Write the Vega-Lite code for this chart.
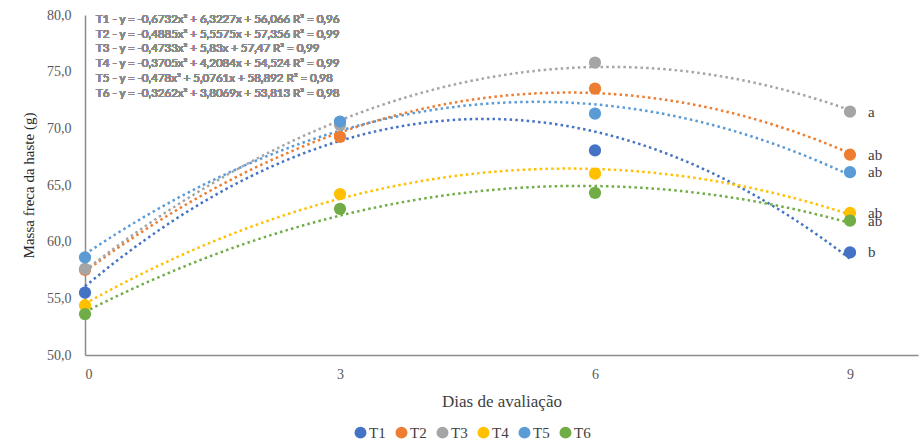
{
  "$schema": "https://vega.github.io/schema/vega-lite/v6.json",
  "width": 833,
  "height": 340,
  "autosize": {"type": "none"},
  "padding": {"left": 85, "top": 15, "right": 2, "bottom": 89},
  "config": {
    "view": {"stroke": null},
    "locale": {"number": {"decimal": ",", "thousands": ".", "grouping": [3], "currency": ["", ""]}},
    "font": "Liberation Serif, Times New Roman, serif"
  },
  "data": {
    "values": [
      {"t": "T1", "dia": 0, "massa": 55.5, "sig": ""},
      {"t": "T1", "dia": 3, "massa": 70.55, "sig": ""},
      {"t": "T1", "dia": 6, "massa": 68.05, "sig": ""},
      {"t": "T1", "dia": 9, "massa": 59.05, "sig": "b"},
      {"t": "T2", "dia": 0, "massa": 57.5, "sig": ""},
      {"t": "T2", "dia": 3, "massa": 69.24, "sig": ""},
      {"t": "T2", "dia": 6, "massa": 73.5, "sig": ""},
      {"t": "T2", "dia": 9, "massa": 67.67, "sig": "ab"},
      {"t": "T3", "dia": 0, "massa": 57.6, "sig": ""},
      {"t": "T3", "dia": 3, "massa": 70.31, "sig": ""},
      {"t": "T3", "dia": 6, "massa": 75.8, "sig": ""},
      {"t": "T3", "dia": 9, "massa": 71.47, "sig": "a"},
      {"t": "T4", "dia": 0, "massa": 54.39, "sig": ""},
      {"t": "T4", "dia": 3, "massa": 64.2, "sig": ""},
      {"t": "T4", "dia": 6, "massa": 66.0, "sig": ""},
      {"t": "T4", "dia": 9, "massa": 62.53, "sig": "ab"},
      {"t": "T5", "dia": 0, "massa": 58.62, "sig": ""},
      {"t": "T5", "dia": 3, "massa": 70.6, "sig": ""},
      {"t": "T5", "dia": 6, "massa": 71.3, "sig": ""},
      {"t": "T5", "dia": 9, "massa": 66.13, "sig": "ab"},
      {"t": "T6", "dia": 0, "massa": 53.61, "sig": ""},
      {"t": "T6", "dia": 3, "massa": 62.9, "sig": ""},
      {"t": "T6", "dia": 6, "massa": 64.31, "sig": ""},
      {"t": "T6", "dia": 9, "massa": 61.85, "sig": "ab"}
    ]
  },
  "encoding": {
    "x": {
      "field": "dia", "type": "quantitative",
      "scale": {"domain": [0, 9.8], "nice": false, "zero": false},
      "axis": {
        "values": [0, 3, 6, 9], "grid": false, "ticks": false,
        "domainColor": "#8c8c8c", "domainWidth": 1.5,
        "labelFont": "Liberation Serif, Times New Roman, serif", "labelFontSize": 14, "labelColor": "#595959",
        "labelPadding": 12,
        "title": "Dias de avaliação", "titleFont": "Liberation Serif, Times New Roman, serif", "titleFontSize": 17,
        "titleFontWeight": "normal", "titleColor": "#404040", "titlePadding": 12
      }
    },
    "y": {
      "field": "massa", "type": "quantitative",
      "scale": {"domain": [50, 80], "nice": false, "zero": false},
      "axis": {
        "values": [50, 55, 60, 65, 70, 75, 80], "format": ".1f", "grid": false, "ticks": false,
        "domainColor": "#8c8c8c", "domainWidth": 1.5,
        "labelFont": "Liberation Serif, Times New Roman, serif", "labelFontSize": 14, "labelColor": "#595959",
        "labelPadding": 14,
        "title": "Massa freca da haste (g)", "titleFont": "Liberation Serif, Times New Roman, serif", "titleFontSize": 15,
        "titleFontWeight": "normal", "titleColor": "#262626", "titlePadding": 10
      }
    },
    "color": {
      "field": "t", "type": "nominal",
      "scale": {
        "domain": ["T1", "T2", "T3", "T4", "T5", "T6"],
        "range": ["#4472C4", "#ED7D31", "#A5A5A5", "#FFC000", "#5B9BD5", "#70AD47"]
      },
      "legend": {
        "title": null, "orient": "none", "direction": "horizontal",
        "legendX": 268, "legendY": 410,
        "symbolType": "circle", "symbolSize": 110, "symbolOpacity": 1,
        "labelFont": "Liberation Serif, Times New Roman, serif", "labelFontSize": 15, "labelColor": "#404040",
        "labelOffset": 1, "columnPadding": 7
      }
    }
  },
  "layer": [
    {
      "transform": [
        {"regression": "massa", "on": "dia", "groupby": ["t"], "method": "poly", "order": 2, "extent": [0, 9]}
      ],
      "mark": {"type": "line", "strokeWidth": 2.5, "strokeDash": [2.5, 3.2], "interpolate": "monotone"},
      "encoding": {}
    },
    {
      "mark": {"type": "circle", "size": 150, "opacity": 1}
    },
    {
      "mark": {"type": "text", "align": "left", "dx": 18, "fontSize": 15, "font": "Liberation Serif, Times New Roman, serif", "color": "#404040"},
      "encoding": {"text": {"field": "sig"}, "color": {"value": "#404040"}}
    },
    {
      "mark": {
        "type": "text", "align": "left", "baseline": "top", "font": "Lato, Liberation Sans, sans-serif",
        "fontSize": 11.5, "lineHeight": 14.8, "color": "#8a8a8a",
        "text": [
          "T1 - y = -0,6732x² + 6,3227x + 56,066 R² = 0,96",
          "T2 - y = -0,4885x² + 5,5575x + 57,356 R² = 0,99",
          "T3 - y = -0,4733x² + 5,83x + 57,47 R² = 0,99",
          "T4 - y = -0,3705x² + 4,2084x + 54,524 R² = 0,99",
          "T5 - y = -0,478x² + 5,0761x + 58,892  R² = 0,98",
          "T6 - y = -0,3262x² + 3,8069x + 53,813 R² = 0,98"
        ]
      },
      "encoding": {
        "x": {"datum": 0.13, "type": "quantitative"},
        "y": {"datum": 80.1, "type": "quantitative"},
        "color": {"value": "#8a8a8a"}
      }
    }
  ]
}
